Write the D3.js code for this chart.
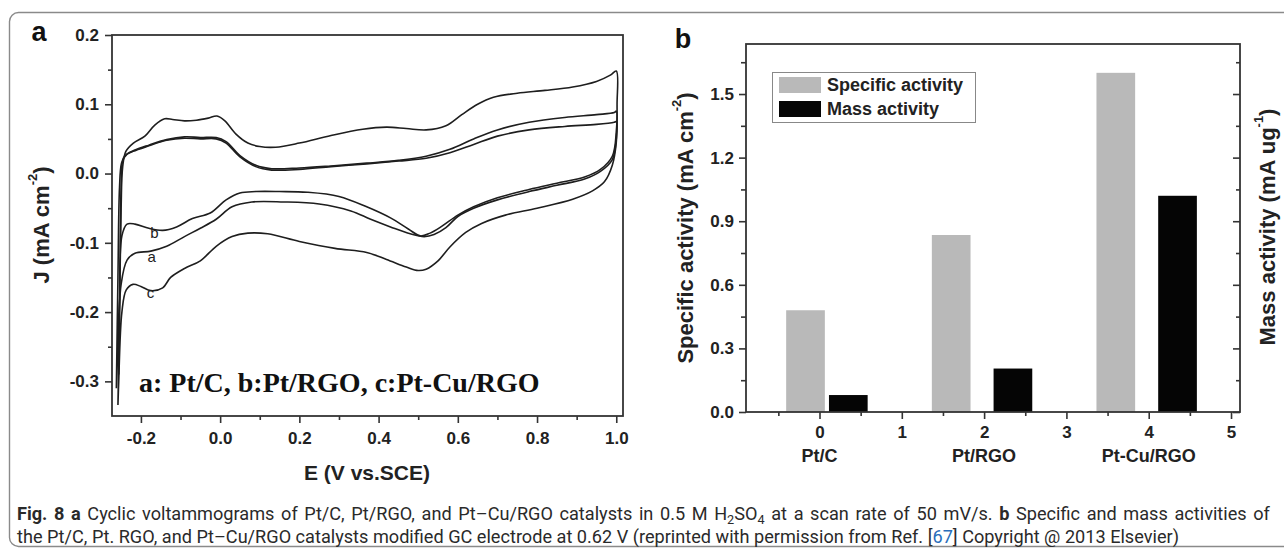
<!DOCTYPE html>
<html><head><meta charset="utf-8">
<script src="https://cdn.jsdelivr.net/npm/d3@7"></script>
<style>body{margin:0;background:#fff} svg{display:block}</style>
</head><body>
<svg id="chart" width="1284" height="548"></svg>
<script>
// ---------- DATA ----------
// Panel a: cyclic voltammograms, [E (V vs SCE), J (mA cm-2)] in scan order
const cvPtC = [[-0.262,-0.31],[-0.258,-0.15],[-0.254,-0.02],[-0.249,0.015],[-0.24,0.026],[-0.22,0.032],[-0.18,0.040],[-0.135,0.048],[-0.09,0.051],[-0.05,0.050],[-0.01,0.050],[0.015,0.044],[0.05,0.024],[0.09,0.010],[0.13,0.005],[0.20,0.006],[0.28,0.010],[0.37,0.014],[0.45,0.018],[0.52,0.022],[0.58,0.030],[0.64,0.042],[0.70,0.054],[0.78,0.063],[0.87,0.068],[0.95,0.071],[0.995,0.074],[1.0,0.075],
  [1.0,0.05],[0.99,0.02],[0.96,0.003],[0.92,-0.008],[0.85,-0.017],[0.78,-0.026],[0.70,-0.038],[0.64,-0.05],[0.60,-0.062],[0.57,-0.078],[0.54,-0.088],[0.515,-0.091],[0.48,-0.087],[0.43,-0.077],[0.38,-0.066],[0.33,-0.054],[0.25,-0.044],[0.16,-0.041],[0.08,-0.041],[0.03,-0.048],[-0.01,-0.066],[-0.05,-0.079],[-0.09,-0.091],[-0.135,-0.105],[-0.175,-0.112],[-0.215,-0.115],[-0.235,-0.125],[-0.25,-0.16],[-0.258,-0.25],[-0.262,-0.31]];
const cvPtRGO = [[-0.256,-0.29],[-0.253,-0.15],[-0.25,-0.02],[-0.246,0.018],[-0.235,0.028],[-0.215,0.034],[-0.18,0.041],[-0.135,0.049],[-0.09,0.053],[-0.05,0.052],[-0.01,0.052],[0.015,0.046],[0.05,0.026],[0.09,0.012],[0.13,0.007],[0.20,0.008],[0.28,0.011],[0.37,0.015],[0.45,0.019],[0.52,0.025],[0.58,0.035],[0.64,0.050],[0.70,0.063],[0.78,0.074],[0.87,0.081],[0.95,0.085],[0.995,0.088],[1.0,0.09],
  [1.0,0.06],[0.99,0.025],[0.96,0.006],[0.92,-0.005],[0.85,-0.014],[0.78,-0.023],[0.70,-0.035],[0.64,-0.048],[0.60,-0.060],[0.56,-0.076],[0.53,-0.086],[0.505,-0.090],[0.475,-0.080],[0.43,-0.064],[0.37,-0.048],[0.30,-0.033],[0.22,-0.027],[0.15,-0.026],[0.09,-0.026],[0.05,-0.028],[0.015,-0.038],[-0.025,-0.057],[-0.07,-0.065],[-0.11,-0.077],[-0.145,-0.082],[-0.18,-0.079],[-0.215,-0.073],[-0.235,-0.073],[-0.248,-0.09],[-0.254,-0.2],[-0.256,-0.29]];
const cvPtCuRGO = [[-0.258,-0.334],[-0.254,-0.20],[-0.250,-0.05],[-0.246,0.01],[-0.238,0.032],[-0.219,0.044],[-0.19,0.054],[-0.165,0.070],[-0.14,0.079],[-0.12,0.078],[-0.09,0.076],[-0.06,0.077],[-0.03,0.080],[-0.008,0.083],[0.012,0.076],[0.04,0.057],[0.07,0.044],[0.10,0.039],[0.14,0.038],[0.20,0.044],[0.28,0.055],[0.36,0.064],[0.42,0.067],[0.47,0.065],[0.52,0.063],[0.57,0.069],[0.61,0.085],[0.65,0.100],[0.69,0.110],[0.75,0.116],[0.82,0.120],[0.89,0.125],[0.95,0.133],[0.985,0.142],[1.0,0.148],
  [1.002,0.10],[1.0,0.045],[0.99,0.012],[0.97,-0.012],[0.94,-0.025],[0.89,-0.037],[0.80,-0.050],[0.72,-0.060],[0.66,-0.072],[0.62,-0.085],[0.58,-0.106],[0.55,-0.126],[0.52,-0.138],[0.50,-0.140],[0.47,-0.135],[0.42,-0.124],[0.37,-0.114],[0.29,-0.108],[0.20,-0.098],[0.12,-0.087],[0.07,-0.086],[0.03,-0.091],[-0.01,-0.105],[-0.05,-0.126],[-0.09,-0.137],[-0.125,-0.150],[-0.145,-0.165],[-0.175,-0.169],[-0.20,-0.163],[-0.22,-0.160],[-0.237,-0.168],[-0.248,-0.20],[-0.256,-0.30],[-0.258,-0.334]];
const cvCurveLabels = ["b","a","c"];
const cvLabelAnchors = [[-0.166,-0.085],[-0.173,-0.12],[-0.176,-0.172]];
const cvTicksX = [-0.2,0.0,0.2,0.4,0.6,0.8,1.0];
const cvMinorX = [-0.1,0.1,0.3,0.5,0.7,0.9];
const cvTicksY = [-0.3,-0.2,-0.1,0.0,0.1,0.2];
const cvMinorY = [-0.25,-0.15,-0.05,0.05,0.15];

// Panel b: activities
const catalysts = ["Pt/C","Pt/RGO","Pt-Cu/RGO"];
const catalystX = [0,2,4];
const specificActivity = [0.48,0.835,1.60];
const specificX = [-0.17,1.6,3.6];
const massActivity = [0.08,0.205,1.02];
const massX = [0.35,2.35,4.35];
const barTicksX = [0,1,2,3,4,5];
const barMinorX = [-0.5,0.5,1.5,2.5,3.5,4.5];
const barTicksY = [0.0,0.3,0.6,0.9,1.2,1.5];
const barMinorY = [0.15,0.45,0.75,1.05,1.35,1.65];
const legendLabels = ["Specific activity","Mass activity"];

// ---------- DRAW ----------
const svg = d3.select("#chart");
const SANS = "'Liberation Sans', Arimo, Arial, Helvetica, sans-serif";
const INK = "#222";
const fmt1 = v => d3.format(".1f")(v).replace("\u2212","-");

// outer rounded frame
svg.append("rect").attr("x",9.5).attr("y",12.5).attr("width",1300).attr("height",534)
  .attr("rx",9).attr("fill","none").attr("stroke","#8a8a8a").attr("stroke-width",1.4);

function styleAxis(g, fs){
  g.select(".domain").remove();
  g.selectAll("line").attr("stroke","#333").attr("stroke-width",1.6);
  g.selectAll("text").attr("font-family",SANS).attr("font-weight","bold").attr("font-size",fs).attr("fill",INK);
}

// ===== Panel a =====
const ax = d3.scaleLinear().domain([-0.273,1.017]).range([112,623]);
const ay = d3.scaleLinear().domain([-0.35,0.2]).range([416,35]);
const pa = svg.append("g");

pa.append("g").attr("transform","translate(0,416)")
  .call(d3.axisBottom(ax).tickValues(cvMinorX).tickSize(4).tickFormat(""))
  .call(g=>styleAxis(g,17));
pa.append("g").attr("transform","translate(0,416)")
  .call(d3.axisBottom(ax).tickValues(cvTicksX).tickSize(7).tickPadding(9).tickFormat(fmt1))
  .call(g=>styleAxis(g,17));
pa.append("g").attr("transform","translate(112,0)")
  .call(d3.axisLeft(ay).tickValues(cvMinorY).tickSize(4).tickFormat(""))
  .call(g=>styleAxis(g,17));
pa.append("g").attr("transform","translate(112,0)")
  .call(d3.axisLeft(ay).tickValues(cvTicksY).tickSize(7).tickPadding(6).tickFormat(fmt1))
  .call(g=>styleAxis(g,17));
pa.append("rect").attr("x",112).attr("y",35).attr("width",623-112).attr("height",416-35)
  .attr("fill","none").attr("stroke","#333").attr("stroke-width",1.8);

const cvLine = d3.line().x(d=>ax(d[0])).y(d=>ay(d[1])).curve(d3.curveCatmullRom.alpha(0.5));
[cvPtC, cvPtRGO, cvPtCuRGO].forEach(c=>{
  pa.append("path").datum(c).attr("d",cvLine).attr("fill","none").attr("stroke","#1e1e1e").attr("stroke-width",1.6);
});
cvCurveLabels.forEach((t,i)=>{
  pa.append("text").attr("x",ax(cvLabelAnchors[i][0])).attr("y",ay(cvLabelAnchors[i][1]))
    .attr("text-anchor","middle").attr("dominant-baseline","central")
    .attr("font-family",SANS).attr("font-size",15).attr("fill",INK).text(t);
});
pa.append("text").attr("x",139).attr("y",392)
  .attr("font-family","'Liberation Serif','Times New Roman',serif").attr("font-weight","bold")
  .attr("font-size",28).attr("fill","#111").text("a: Pt/C, b:Pt/RGO, c:Pt-Cu/RGO");
pa.append("text").attr("x",367).attr("y",472).attr("text-anchor","middle").attr("dominant-baseline","central")
  .attr("font-family",SANS).attr("font-weight","bold").attr("font-size",21).attr("fill",INK).text("E (V vs.SCE)");
{
  const t = pa.append("text").attr("transform","translate(41,225) rotate(-90)").attr("text-anchor","middle")
    .attr("dominant-baseline","central").attr("font-family",SANS).attr("font-weight","bold").attr("font-size",22).attr("fill",INK);
  t.append("tspan").text("J (mA cm");
  t.append("tspan").attr("font-size",13).attr("dy",-9).text("-2");
  t.append("tspan").attr("dy",9).text(")");
}
svg.append("text").attr("x",39).attr("y",32).attr("text-anchor","middle").attr("dominant-baseline","central")
  .attr("font-family",SANS).attr("font-weight","bold").attr("font-size",27).attr("fill","#111").text("a");

// ===== Panel b =====
const bx = d3.scaleLinear().domain([-0.893,5.109]).range([746,1240]);
const by = d3.scaleLinear().domain([0,1.736]).range([412,44]);
const byR = d3.scaleLinear().domain([0,1.736]).range([412,44]);
const pb = svg.append("g");
const barW = 0.47;

pb.selectAll("rect.spec").data(specificActivity).join("rect").attr("class","spec")
  .attr("x",(d,i)=>bx(specificX[i]-barW/2)).attr("width",(d,i)=>bx(barW)-bx(0))
  .attr("y",d=>by(d)).attr("height",d=>by(0)-by(d)).attr("fill","#b9b9b9");
pb.selectAll("rect.mass").data(massActivity).join("rect").attr("class","mass")
  .attr("x",(d,i)=>bx(massX[i]-barW/2)).attr("width",(d,i)=>bx(barW)-bx(0))
  .attr("y",d=>byR(d)).attr("height",d=>byR(0)-byR(d)).attr("fill","#050505");

pb.append("g").attr("transform","translate(0,412)")
  .call(d3.axisBottom(bx).tickValues(barMinorX).tickSize(4).tickFormat(""))
  .call(g=>styleAxis(g,17));
pb.append("g").attr("transform","translate(0,412)")
  .call(d3.axisBottom(bx).tickValues(barTicksX).tickSize(7).tickPadding(7).tickFormat(d3.format("d")))
  .call(g=>styleAxis(g,17));
pb.append("g").attr("transform","translate(746,0)")
  .call(d3.axisLeft(by).tickValues(barMinorY).tickSize(5).tickFormat(""))
  .call(g=>styleAxis(g,17));
pb.append("g").attr("transform","translate(746,0)")
  .call(d3.axisLeft(by).tickValues(barTicksY).tickSize(7).tickPadding(5).tickFormat(fmt1))
  .call(g=>styleAxis(g,17));
pb.append("g").attr("transform","translate(1240,0)")
  .call(d3.axisLeft(byR).tickValues(barMinorY).tickSize(4).tickFormat(""))
  .call(g=>styleAxis(g,17));
pb.append("g").attr("transform","translate(1240,0)")
  .call(d3.axisLeft(byR).tickValues(barTicksY).tickSize(7).tickFormat(""))
  .call(g=>styleAxis(g,17));
pb.append("rect").attr("x",746).attr("y",44).attr("width",1240-746).attr("height",412-44)
  .attr("fill","none").attr("stroke","#333").attr("stroke-width",1.8);

catalysts.forEach((c,i)=>{
  pb.append("text").attr("x",bx(catalystX[i])).attr("y",456).attr("text-anchor","middle").attr("dominant-baseline","central")
    .attr("font-family",SANS).attr("font-weight","bold").attr("font-size",18).attr("fill",INK).text(c);
});

// legend
const lg = pb.append("g");
lg.append("rect").attr("x",772.5).attr("y",72.5).attr("width",203).attr("height",50)
  .attr("fill","#fff").attr("stroke","#888").attr("stroke-width",1);
const legendFill = ["#b9b9b9","#050505"];
legendLabels.forEach((t,i)=>{
  lg.append("rect").attr("x",779).attr("y",77+i*24).attr("width",42).attr("height",16).attr("fill",legendFill[i]);
  lg.append("text").attr("x",827).attr("y",85+i*24).attr("dominant-baseline","central")
    .attr("font-family",SANS).attr("font-weight","bold").attr("font-size",18).attr("fill",INK).text(t);
});

{
  const t = pb.append("text").attr("transform","translate(685,228) rotate(-90)").attr("text-anchor","middle")
    .attr("dominant-baseline","central").attr("font-family",SANS).attr("font-weight","bold").attr("font-size",22).attr("fill",INK);
  t.append("tspan").text("Specific activity (mA cm");
  t.append("tspan").attr("font-size",13).attr("dy",-9).text("-2");
  t.append("tspan").attr("dy",9).text(")");
}
{
  const t = pb.append("text").attr("transform","translate(1267,227) rotate(-90)").attr("text-anchor","middle")
    .attr("dominant-baseline","central").attr("font-family",SANS).attr("font-weight","bold").attr("font-size",22).attr("fill",INK);
  t.append("tspan").text("Mass activity (mA ug");
  t.append("tspan").attr("font-size",13).attr("dy",-9).text("-1");
  t.append("tspan").attr("dy",9).text(")");
}
svg.append("text").attr("x",683).attr("y",39).attr("text-anchor","middle").attr("dominant-baseline","central")
  .attr("font-family",SANS).attr("font-weight","bold").attr("font-size",27).attr("fill","#111").text("b");

// ===== Caption =====
const CAP = "Roboto, 'Liberation Sans', sans-serif";
const capG = svg.append("g");
const cap1 = capG.append("text").attr("x",0).attr("y",520).attr("font-family",CAP).attr("font-size",17.5).attr("fill","#2a2a2a");
cap1.append("tspan").attr("font-weight","bold").text("Fig. 8  a");
cap1.append("tspan").text(" Cyclic voltammograms of Pt/C, Pt/RGO, and Pt\u2013Cu/RGO catalysts in 0.5 M H");
cap1.append("tspan").attr("font-size","0.7em").attr("dy",4).text("2");
cap1.append("tspan").attr("dy",-4).text("SO");
cap1.append("tspan").attr("font-size","0.7em").attr("dy",4).text("4");
cap1.append("tspan").attr("dy",-4).text(" at a scan rate of 50 mV/s. ");
cap1.append("tspan").attr("font-weight","bold").text("b");
cap1.append("tspan").text(" Specific and mass activities of");
const cap2 = capG.append("text").attr("x",0).attr("y",543).attr("font-family",CAP).attr("font-size",17.5).attr("fill","#2a2a2a");
cap2.append("tspan").text("the Pt/C, Pt. RGO, and Pt\u2013Cu/RGO catalysts modified GC electrode at 0.62 V (reprinted with permission from Ref. [");
cap2.append("tspan").attr("fill","#2a6ebb").text("67");
cap2.append("tspan").text("] Copyright @ 2013 Elsevier)");
// condensed look: scale horizontally so the last line has its width; justify line 1
const L2 = cap2.node().getComputedTextLength();
const sx = (1180-17)/L2;
capG.attr("transform",`translate(17,0) scale(${sx},1)`);
const L1 = cap1.node().getComputedTextLength();
const spaces = (cap1.text().match(/ /g)||[]).length;
const ws = ((1272-17)/sx - L1)/spaces;
cap1.attr("word-spacing", ws);
</script>
</body></html>
